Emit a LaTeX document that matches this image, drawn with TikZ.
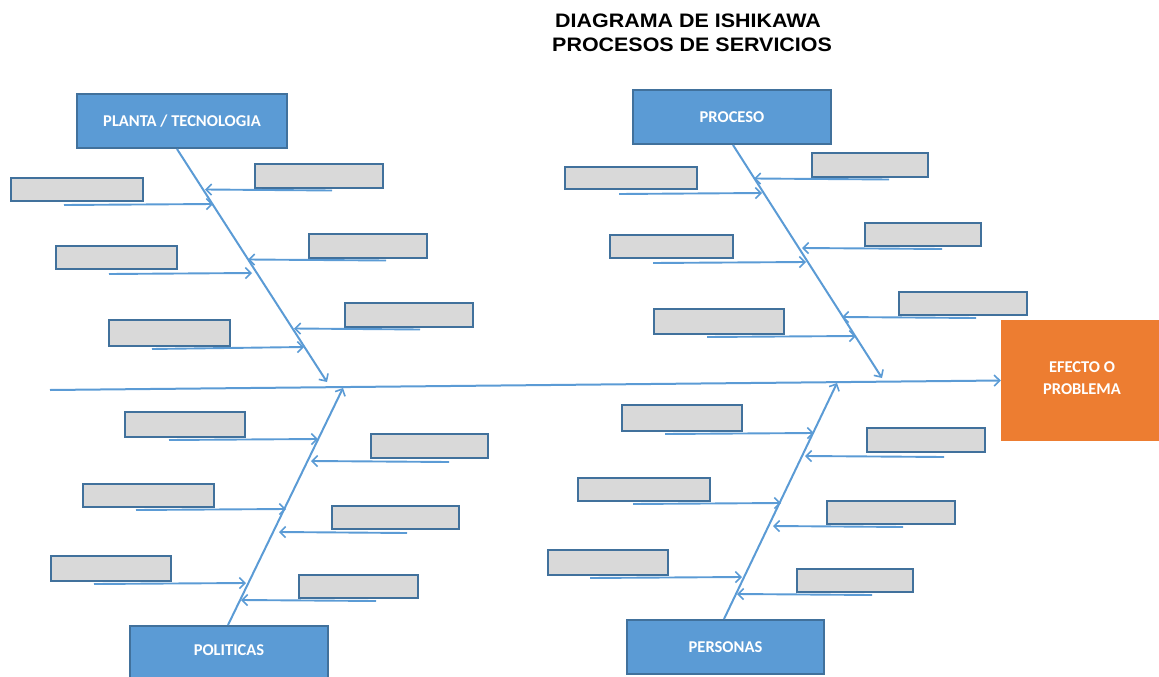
\documentclass[tikz,border=0pt]{standalone}
\usepackage{fontspec}
\setmainfont{Carlito}
\newfontfamily\titlefont[FakeStretch=1.1]{Liberation Sans}
\usetikzlibrary{arrows.meta}

\definecolor{boneblue}{HTML}{5B9BD5}
\definecolor{edgeblue}{HTML}{41719C}
\definecolor{cellgray}{HTML}{D9D9D9}
\definecolor{effectorange}{HTML}{ED7D31}

% cause cell given by its corners: name, x1, y1, x2, y2
\newcommand\causecell[5]{%
  \node[cell, minimum width={(#4-#2)*1pt}, minimum height={(#5-#3)*1pt}]
    (#1) at ({(#2+#4)/2},{(#3+#5)/2}) {};}
% rib from under a cause cell to the bone: cell, dx, dy, tip x, tip y
\newcommand\rib[5]{%
  \coordinate (#1-tip) at (#4,#5);
  \draw[ribline] ([xshift=#2pt,yshift=-#3pt]#1.south west) -- (#1-tip);}

\begin{document}
\begin{tikzpicture}[x=1pt,y=-1pt,
  barb/.style={-{Straight Barb[length=5.5pt,width=11pt,line width=1.6pt]}},
  spineline/.style={draw=boneblue, line width=2pt, barb},
  ribline/.style={draw=boneblue, line width=1.9pt, barb},
  cell/.style={draw=edgeblue, fill=cellgray, line width=2pt, inner sep=0pt},
  category/.style={draw=edgeblue, fill=boneblue, line width=2pt, inner sep=0pt,
    text=white, font=\fontsize{16.5}{18}\selectfont\bfseries},
  effect/.style={fill=effectorange, inner sep=0pt},
  heading/.style={anchor=base west, inner sep=0pt,
    font=\titlefont\fontsize{19.5}{21}\selectfont\bfseries}
]
\useasboundingbox (0,0) rectangle (1159,677);

% title
\node[heading] (title1) at (555,28) {DIAGRAMA DE ISHIKAWA};
\node[heading] (title2) at (552,52) {PROCESOS DE SERVICIOS};

% effect and main bone
\node[effect, minimum width=164pt, minimum height=121pt] (effect) at (1083,380.5) {};
\node[text=white, align=center, font=\fontsize{16.5}{22}\selectfont\bfseries] (effecttext) at (1082,378) {EFECTO O\\PROBLEMA};
\coordinate (tail) at (50,390);
\draw[spineline] (tail) -- (effect.west);

% categories
\node[category, minimum width=210pt, minimum height=54pt] (planta) at (182,121) {PLANTA / TECNOLOGIA};
\node[category, minimum width=198pt, minimum height=54pt] (proceso) at (732,117) {PROCESO};
\node[category, minimum width=198pt, minimum height=64pt] (politicas) at (229,658) {};
\node[text=white, font=\fontsize{16.5}{18}\selectfont\bfseries] (politicastext) at (229,650) {POLITICAS};
\node[category, minimum width=197pt, minimum height=54pt] (personas) at (725.5,647) {PERSONAS};

% category bones
\coordinate (planta-end) at (327,382);
\coordinate (proceso-end) at (882,378);
\coordinate (politicas-end) at (343,388);
\coordinate (personas-end) at (837,383);
\draw[spineline] ([xshift=-5pt]planta.south) -- (planta-end);
\draw[spineline] ([xshift=1pt]proceso.south) -- (proceso-end);
\draw[spineline] ([xshift=-1pt]politicas.north) -- (politicas-end);
\draw[spineline] ([xshift=-1.5pt]personas.north) -- (personas-end);

% ---- PLANTA / TECNOLOGIA ----
\causecell{pl1}{11}{178}{143}{201}
\causecell{pl2}{56}{246}{177}{269}
\causecell{pl3}{109}{320}{230}{346}
\causecell{pr1}{255}{164}{383}{188}
\causecell{pr2}{309}{234}{427}{258}
\causecell{pr3}{345}{303}{473}{327}
\rib{pl1}{54}{3}{213}{204}
\rib{pl2}{54}{4}{252}{273}
\rib{pl3}{44}{2}{304}{347}
\rib{pr1}{78}{1.5}{205}{189.5}
\rib{pr2}{78}{1.5}{248}{259.5}
\rib{pr3}{76}{1.5}{294}{328.5}

% ---- PROCESO ----
\causecell{ql1}{565}{167}{697}{189}
\causecell{ql2}{610}{235}{733}{258}
\causecell{ql3}{654}{309}{784}{334}
\causecell{qr1}{812}{153}{928}{177}
\causecell{qr2}{865}{223}{981}{246}
\causecell{qr3}{899}{292}{1027}{315}
\rib{ql1}{55}{4}{762}{193}
\rib{ql2}{44}{4}{806}{262}
\rib{ql3}{54}{2}{856}{336}
\rib{qr1}{78}{1.5}{754}{178.5}
\rib{qr2}{78}{2}{802}{248}
\rib{qr3}{78}{2}{842}{317}

% ---- POLITICAS ----
\causecell{tl1}{125}{412}{245}{437}
\causecell{tl2}{83}{484}{214}{507}
\causecell{tl3}{51}{556}{171}{581}
\causecell{tr1}{371}{434}{488}{458}
\causecell{tr2}{332}{506}{459}{529}
\causecell{tr3}{299}{575}{418}{598}
\rib{tl1}{45}{2}{318}{439}
\rib{tl2}{54}{2}{286}{509}
\rib{tl3}{44}{2}{246}{583}
\rib{tr1}{79}{3}{311}{461}
\rib{tr2}{76}{3}{279}{532}
\rib{tr3}{78}{2}{241}{600}

% ---- PERSONAS ----
\causecell{sl1}{622}{405}{742}{431}
\causecell{sl2}{578}{478}{710}{501}
\causecell{sl3}{548}{550}{668}{575}
\causecell{sr1}{867}{428}{985}{452}
\causecell{sr2}{827}{501}{955}{524}
\causecell{sr3}{797}{569}{913}{592}
\rib{sl1}{44}{2}{814}{433}
\rib{sl2}{56}{2}{781}{503}
\rib{sl3}{43}{2}{742}{577}
\rib{sr1}{78}{4}{805}{456}
\rib{sr2}{77}{2}{773}{526}
\rib{sr3}{76}{2}{737}{594}
\end{tikzpicture}
\end{document}
